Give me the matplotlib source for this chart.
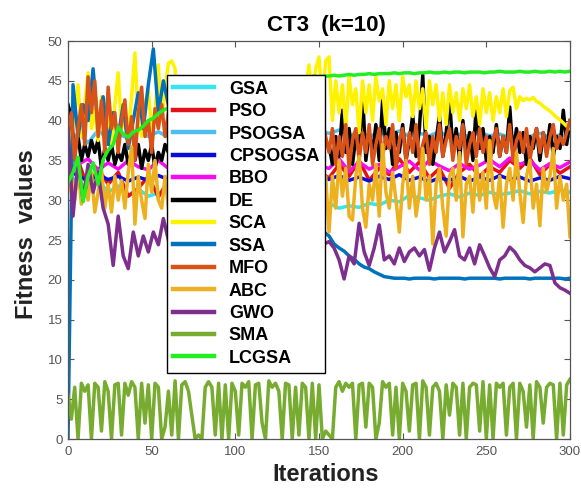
import numpy as np
import matplotlib
matplotlib.use("Agg")
import matplotlib.pyplot as plt

plt.rcParams['font.family'] = ['Liberation Sans', 'DejaVu Sans']

# iteration grids: every 2 iterations for the most oscillating curves,
# every 3 for the medium ones, every 6 for the smooth ones
iters2 = np.arange(0, 301, 2)
iters3 = np.arange(0, 301, 3)
iters6 = np.arange(0, 301, 6)

gsa = [33.5, 32.0, 31.5, 32.5, 31.0, 31.8, 30.6, 31.4, 30.5, 30.9, 31.2, 30.4, 30.8, 30.2, 30.6, 30.0,
       30.4, 29.8, 30.2, 29.6, 30.0, 29.5, 29.8, 29.3, 29.6, 29.2,
       29.6, 29.0, 29.3, 29.1, 29.6, 29.4, 30.0, 29.8, 30.6, 30.3, 30.0, 30.5, 30.8, 30.4, 30.9, 30.6,
       31.0, 30.7, 30.9, 31.2, 30.8, 31.1, 30.9, 31.3, 31.0]

pso = [33, 35, 31.5, 34, 32, 33.5, 30.5, 31.5, 33, 30.4, 32.5, 34, 31.5, 33, 32, 34.5, 31.8, 33.2,
       32.5, 34, 32, 33.5, 32.8, 34.2, 32.5, 33.6,
       32.8, 34.5, 33, 35, 32.5, 34, 33.2, 35.2, 33.5, 34.8, 32.8, 34, 31.5, 33.5, 34.5, 33, 34.2,
       33.5, 35, 34, 35.3, 33.2, 34.5, 33.4, 34.2]

psogsa = [36.5, 38.5, 37.2, 38.8, 37.6, 38.3, 37.8, 38.9, 38.0, 38.6, 37.9, 38.7, 38.1, 38.9, 38.2,
          38.6, 37.9, 38.8, 38.3, 38.5, 38.0, 38.9, 38.2, 38.6, 38.1, 38.7,
          38.4, 38.8, 38.1, 38.6, 38.0, 38.5, 38.2, 38.7, 38.0, 38.4, 38.1, 38.6, 37.9, 38.3, 38.0,
          38.5, 38.1, 38.3, 37.9, 38.2, 38.0, 38.4, 37.9, 38.2, 38.0]

cpsogsa = [34, 33, 32.5, 33.2, 32.6, 33.0, 32.4, 32.9, 32.5, 33.1, 32.6, 33.0, 32.4, 32.9, 32.6,
           33.2, 32.5, 32.9, 32.4, 33.0, 32.6, 33.1, 32.5, 32.8, 32.4, 33.0,
           32.6, 33.1, 32.5, 32.9, 32.4, 33.0, 32.6, 33.2, 32.5, 32.9, 32.3, 32.8, 32.5, 33.0, 32.4,
           32.9, 32.5, 33.1, 32.6, 32.9, 32.4, 32.8, 32.5, 33.0, 32.7]

bbo = [36, 34.5, 35.2, 33.8, 34.7, 33.9, 35.0, 34.2, 33.8, 35.0, 34.0, 34.8, 33.6, 34.5, 35.1, 34.0,
       34.7, 33.7, 34.9, 34.1, 35.2, 33.9, 34.6, 34.0, 35.0, 34.3,
       34.0, 35.2, 33.6, 34.8, 33.9, 34.5, 33.5, 34.2, 34.9, 33.8, 35.0, 34.3, 33.7, 34.6, 33.9,
       34.4, 35.1, 34.2, 35.3, 34.5, 35.0, 33.8, 34.6, 34.1, 34.8]

de = [42, 40.5, 36, 38, 35, 37, 35.5, 37.5, 36, 37.6, 34, 36.5, 35, 37, 34.5, 36, 35, 37, 34.5, 36,
      35, 37, 34, 36.3, 35, 37, 34, 36, 35, 37,
      36, 38, 35, 37, 39, 34, 36, 38, 35, 37, 36, 39, 34, 37, 35, 38, 36, 37, 35, 39,
      36, 34, 38, 35, 37, 36, 39, 35, 37, 38, 34, 36, 38, 35, 37, 39, 36, 34, 37, 38,
      35, 36, 39, 37, 35, 38, 36, 37,
      37, 34.5, 38, 35.5, 41.3, 36, 39, 34.5, 38, 36, 43.5, 35, 38.5, 36, 39.5, 35, 42.6, 36.5,
      39, 34.5, 38.5, 36, 39.5, 35, 37.5, 40.7, 35.5, 39, 45.7, 36, 38, 34.5, 37.5, 40.7, 35.5,
      38.5, 43, 36, 39, 35, 40, 36, 38.5, 35, 42, 36.5, 39, 35, 38, 36, 39.5, 35.5, 38, 36, 41.7,
      35.5, 39, 36, 38.5, 34.5, 38, 36.5, 39, 35, 38.5, 36, 39.5, 35.5, 38, 36.5, 41.3, 37, 40]

sca = [40, 37, 41, 44.5, 38, 42, 46, 39, 41.5, 37.5, 43, 38, 40.5, 37, 42, 46, 39, 41, 38, 43,
       48.5, 40, 38, 42, 43.8, 39, 41, 47, 40, 44,
       47.2, 47.5, 46.5, 41,
       43, 38, 44, 40, 42, 37.5, 45, 39, 41, 43.5, 38, 44, 40, 42.5, 38.5, 45, 41, 39, 43, 37.5,
       44.5, 40, 42, 38, 45, 41.5, 39, 43, 40, 44, 38.5, 42, 45, 39.5, 41, 43.5, 40,
       44, 47, 43, 46.5, 48, 42, 47.5,
       48, 40, 45, 41, 44.5, 39, 45.5, 42, 44, 38.5, 45, 41, 44.5, 40, 45.5, 42.5, 44, 39.5, 45,
       41.5, 44.5, 40, 45.5, 43, 44.5, 40.5, 45, 41.5, 44, 39, 45, 42, 44.5, 40, 43.5, 39.5, 44.5,
       41, 43.5, 40, 44, 41.5, 44.5, 40.5, 43, 39.5, 44, 41, 43.5, 40, 43, 41, 44, 40.5, 43.8,
       44.2, 41.5, 43, 42.5, 42.8, 42.6, 42.9, 42.4, 42.2, 41.8, 41.5, 41.2, 40.8, 40.4, 40.1,
       39.7, 39.3, 39]

ssa = [0, 44.5, 38, 42, 40, 46.5, 39, 43, 37, 41, 38, 42, 36.5, 40, 43.5, 39, 44.5, 49, 41, 45,
       42, 38, 40, 37, 39, 36, 38, 35, 37, 34, 36, 33, 35, 32, 34, 31, 33, 30, 32, 29.5, 31, 28.5,
       30, 28, 29, 27.5, 28.5, 27, 28, 26.5, 27, 26,
       25.5, 24.5, 24, 23.6, 23, 22.6, 22, 21.6, 21.4, 21, 20.7, 20.4,
       20.3, 20.2, 20.2, 20.2, 20.1, 20.2, 20.2, 20.2, 20.2, 20.1, 20.2, 20.2, 20.2, 20.2, 20.2,
       20.1, 20.2, 20.2, 20.2, 20.2, 20.2, 20.2, 20.1, 20.2, 20.2, 20.2, 20.2, 20.2, 20.1, 20.2,
       20.2, 20.2, 20.2, 20.2, 20.2, 20.1, 20.2]

mfo = [38, 41, 35, 39, 42, 37, 45.5, 41, 45, 38, 42.5, 36, 44.2, 39, 41, 36, 40, 42.6, 37, 40.5,
       35, 41, 44.2, 38, 40, 36, 41.5, 39, 42, 38,
       41, 36, 40, 37, 42, 35, 39, 41, 36, 40, 38, 42, 37, 39, 35, 41, 38, 40, 36, 39,
       42, 37, 40, 35, 39, 41, 36, 38, 40, 37, 39, 36, 41, 38, 40, 35, 39, 42, 37, 40,
       36, 38, 41, 37, 39, 36, 40, 38,
       36, 39, 34.5, 38, 35.5, 39.5, 34, 37.5, 39, 35, 38.5, 36, 39.5, 34.5, 37, 39, 35.5, 38, 36.5,
       39.5, 34, 37.5, 39, 35, 38.5, 36, 39.5, 35, 37, 38.5, 34.5, 38, 36, 39.5, 35.5, 37.5, 39, 35,
       38, 36.5, 39.5, 34.5, 37, 38.5, 35.5, 39, 36, 38, 34.5, 37.5, 39, 35.5, 38, 36, 39.5, 35,
       37.5, 38.5, 36, 39, 35, 37.5, 39, 36, 38.5, 35.5, 38, 39.5, 36.5, 38, 37, 38.5, 40]

abc = [31, 33, 30, 34, 29.5, 32, 30, 33.5, 28.5, 31, 34, 29, 32, 28.5, 33, 30, 32.5, 29, 33.5, 36.7,
       27, 33, 30, 27.7, 34.5, 31, 35, 30, 29, 33,
       29, 35, 30, 32, 28, 34, 31, 29, 35, 30, 33, 28, 32, 34, 29, 31, 35, 28, 33, 30,
       34, 29, 32, 27, 33, 30, 35, 29, 31, 34, 30, 32, 28, 35, 31, 29, 34, 30, 33, 28,
       32, 35, 29, 31, 34, 30, 27, 33,
       26, 33, 29, 35, 30.5, 34, 28, 27.5, 33, 35.5, 29, 26.6, 32, 30, 34.5, 28, 37, 31, 29, 33.5,
       30, 26, 32, 35, 29, 33, 28, 31, 36.5, 30, 33, 24.5, 32, 34, 29, 25.5, 33, 34, 30, 36,
       25.4, 32, 33, 28.5, 35, 30, 33.5, 29, 37.5, 31, 29, 33, 26.6, 32, 34, 30, 36, 31, 27.2, 33,
       35, 29, 32, 26.8, 34, 31, 33, 36.5, 29, 33, 30, 32, 25.4]

gwo = [39, 28, 35, 30, 34.5, 31, 33.5, 29, 27, 21.8, 28, 23, 21.4, 26, 23, 25.5, 23.5, 26, 24.4, 27.7,
       25, 23, 26.5, 22, 24, 27, 23, 25.5, 21.5, 24, 26, 22.5, 25, 23.5, 27, 22, 24.5, 26, 23, 25,
       21.5, 24, 26.5, 23, 25, 22, 24.5, 27, 23.5, 25.5, 22.5, 24.5,
       24.8, 24, 22.5, 20.1, 23, 22, 27.1, 23.5, 21.8, 24, 26.9, 22.5, 23, 22, 24, 22.3, 23.5, 24,
       23, 23.8, 21.2, 24, 26, 23.5, 24.8, 26.3, 23, 22.5, 24, 22, 24.4, 23, 21.5, 20.4, 22.5, 23,
       24.1, 23.5, 22.5, 21.8, 21.5, 21, 21.5, 22, 21.8, 19.6, 19, 18.7, 18.3]

sma = [5.5, 2.5, 6.5, 0, 7, 6, 6.8, 0, 7, 6.5, 1, 7.2, 6, 0, 6.8, 7, 0.5, 7, 5.5, 7.2,
       6.5, 0, 7, 2, 6.8, 0, 7, 6.5, 0, 1.5, 6, 0.5, 7.3, 0, 6.8, 7.2, 6, 3, 0, 0.5,
       0, 6.5, 7.2, 6.5, 0.5, 7, 0, 6.8, 0, 7, 6, 0.5, 7, 6.5, 7.2, 0, 6.8, 7, 2, 0,
       7.3, 6.5, 7, 6, 0, 7, 6.8, 0, 6.5, 0.5, 7, 6.5, 0, 7, 0, 6.8, 0, 1, 0.5, 0,
       6.5, 7.2, 6, 7, 6.5, 7, 0, 6.8, 7, 1.5, 7, 6.5, 0, 2, 7.2, 6.5, 7, 0.5, 6.5, 0,
       7, 6, 1, 6.8, 7, 0, 7.3, 6.5, 0.5, 6.5, 7, 6, 0, 6.8, 3, 7, 6.5, 0.5, 7, 0,
       6.5, 7, 6.8, 1, 7.2, 0, 6.8, 0, 7, 6.5, 7, 0.5, 6.5, 7, 0, 7, 6, 1.5, 6.8, 0,
       7.2, 6.5, 2, 6.5, 7, 6.8, 0, 7, 0.5, 6.8, 7.5]

lcgsa = [32.2, 33.5, 35.4, 29.8, 33, 34.7, 32, 35.1, 36.3, 37, 39.2, 38.3, 37.9, 38.6, 38.8, 39.3,
         40, 40.3, 40.9, 41.3,
         41.6, 42.0, 41.8, 42.5, 42.3, 43.0, 42.8, 43.4, 43.2, 43.8, 43.6, 44.1, 44.0, 44.4, 44.2,
         44.6, 44.5, 44.8, 44.7, 45.0, 44.9, 45.2, 45.1, 45.3, 45.2, 45.4, 45.3, 45.5, 45.4, 45.6,
         45.5, 45.6,
         45.6, 45.7, 45.6, 45.7, 45.8, 45.7, 45.8, 45.8, 45.9, 45.8, 45.9, 45.9, 45.9, 46.0, 45.9,
         46.0, 46.0, 45.9, 46.0, 46.0, 46.1, 46.0, 46.0, 46.1, 46.0, 46.1, 46.1, 46.0, 46.1, 46.1,
         46.1, 46.0, 46.1, 46.1, 46.2, 46.1, 46.1, 46.1, 46.2, 46.1, 46.1, 46.2, 46.1, 46.1, 46.2,
         46.1, 46.2, 46.1, 46.2]

names = ["GSA", "PSO", "PSOGSA", "CPSOGSA", "BBO", "DE", "SCA", "SSA", "MFO", "ABC", "GWO", "SMA", "LCGSA"]
xs = [iters6, iters6, iters6, iters6, iters6, iters2, iters2, iters3, iters2, iters2, iters3, iters2, iters3]
ys = [gsa, pso, psogsa, cpsogsa, bbo, de, sca, ssa, mfo, abc, gwo, sma, lcgsa]
colors = ["#35E5EF", "#E3121A", "#4DBEEE", "#0A0ADC", "#F50CF0", "#000000", "#FFF200",
          "#0072BD", "#D95319", "#EDB120", "#7E2F8E", "#77AC30", "#22EE22"]

fig = plt.figure(figsize=(5.81, 4.88), dpi=100)
ax = fig.add_axes([68 / 581, 1 - 439 / 488, 502 / 581, 398 / 488])

for name, x, y, c in zip(names, xs, ys, colors):
    ax.plot(x, y, color=c, lw=2.5, label=name, solid_joinstyle='round')

ax.set_xlim(0, 300)
ax.set_ylim(0, 50)
ax.set_xticks(range(0, 301, 50))
ax.set_yticks(range(0, 51, 5))
gray = '#555555'
ax.tick_params(direction='in', top=True, right=True, length=4, width=0.8,
               colors=gray, labelsize=9.5)
ax.tick_params(axis='x', pad=5)
ax.tick_params(axis='y', pad=4)
for s in ax.spines.values():
    s.set_color(gray)
    s.set_linewidth(0.9)

ax.set_title("CT3  (k=10)", fontsize=16, fontweight='bold', x=0.515, pad=7)
ax.set_xlabel("Iterations", fontsize=17, fontweight='bold', color='#222222')
ax.set_ylabel("Fitness  values", fontsize=17, fontweight='bold', color='#222222')
ax.xaxis.set_label_coords(0.514, -0.06)
ax.yaxis.set_label_coords(-0.06, 0.516)

leg = ax.legend(loc='upper left', bbox_to_anchor=(0.197, 0.915), borderaxespad=0,
                prop={'weight': 'bold', 'size': 13}, handlelength=2.3, handletextpad=0.8,
                labelspacing=0.30, borderpad=0.33, fancybox=False, framealpha=1,
                edgecolor='black')
leg.get_frame().set_linewidth(1.0)
for h in leg.get_lines():
    h.set_linewidth(3.2)

fig.savefig("out.png", dpi=100)
